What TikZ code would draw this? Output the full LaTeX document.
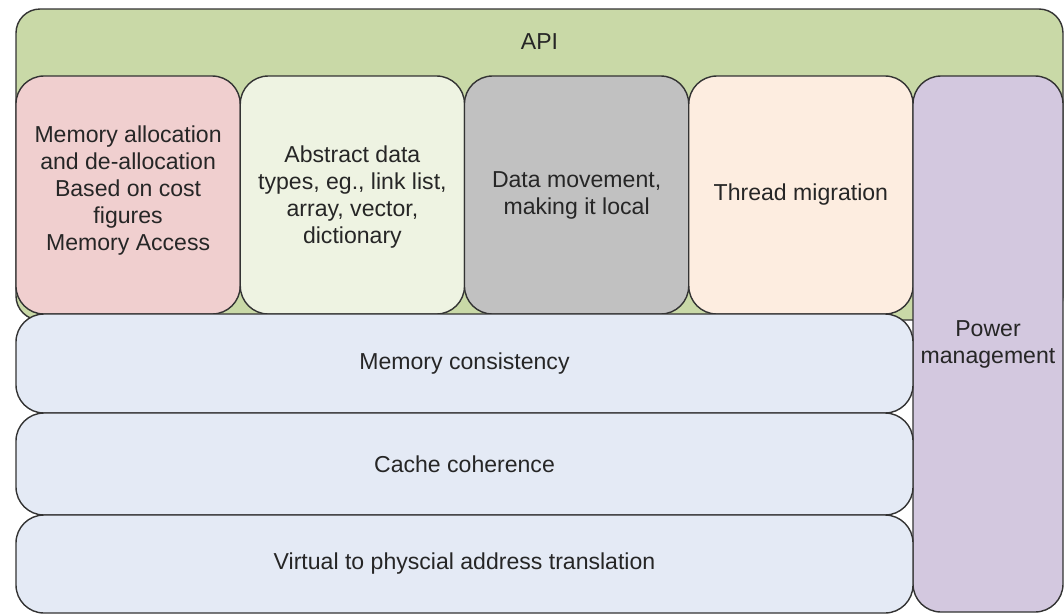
\documentclass[tikz,border=0pt]{standalone}
\usepackage{fontspec}
\setmainfont{Liberation Sans}
\definecolor{apigreen}{HTML}{C9D9A7}
\definecolor{allocred}{HTML}{F0CFCF}
\definecolor{adtgreen}{HTML}{EEF3E2}
\definecolor{movegrey}{HTML}{C1C1C1}
\definecolor{threadpeach}{HTML}{FDEDE0}
\definecolor{powerlilac}{HTML}{D3C8DF}
\definecolor{layerblue}{HTML}{E4EAF5}
\definecolor{edgegrey}{HTML}{333333}
\definecolor{inkgrey}{HTML}{262626}
\begin{document}
\begin{tikzpicture}[x=0.025cm,y=-0.025cm,line join=round,
		font=\fontsize{16.4}{19.2}\selectfont,text=inkgrey,
		layer/.style={draw=edgegrey,line width=1pt,rounded corners=0.7cm,inner sep=0pt},
		txt/.style={align=center,inner sep=0pt}]
			\def \wmod{224.25};
			\useasboundingbox (0,0) rectangle (1064,614);
			% api frame
			\node[layer,rounded corners=0.6cm,fill=apigreen,minimum width=1047*0.025cm,minimum height=311*0.025cm] (api) at (539.5,164.5) {};
			\node[txt] (apitxt) at (539.5,42) {API};
			% services row
			\node[layer,fill=allocred,minimum width=\wmod*0.025cm,minimum height=238*0.025cm] (alloc) at (128.1,195) {};
			\node[layer,fill=adtgreen,minimum width=\wmod*0.025cm,minimum height=238*0.025cm] (adt) at (352.4,195) {};
			\node[layer,fill=movegrey,minimum width=\wmod*0.025cm,minimum height=238*0.025cm] (move) at (576.6,195) {};
			\node[layer,fill=threadpeach,minimum width=\wmod*0.025cm,minimum height=238*0.025cm] (thread) at (800.9,195) {};
			\node[txt] at ([yshift=0.12cm]alloc) {Memory allocation\\and de-allocation\\Based on cost\\figures\\Memory Access};
			\node[txt] at ([yshift=-0.05cm]adt) {Abstract data\\types, eg., link list,\\array, vector,\\dictionary};
			\node[txt] at (move) {Data movement,\\making it local};
			\node[txt] at (thread) {Thread migration};
			% power column
			\node[layer,fill=powerlilac,minimum width=150*0.025cm,minimum height=536*0.025cm] (power) at (988,344) {};
			\node[txt] (powertxt) at (988,344) {Power\\management};
			% lower layers
			\node[layer,fill=layerblue,minimum width=897*0.025cm,minimum height=99*0.025cm] (consist) at (464.5,363.5) {Memory consistency};
			\node[layer,fill=layerblue,minimum width=897*0.025cm,minimum height=102*0.025cm] (coher) at (464.5,464) {Cache coherence};
			\node[layer,fill=layerblue,minimum width=897*0.025cm,minimum height=98*0.025cm] (vaddr) at (464.5,564) {Virtual to physcial address translation};
\end{tikzpicture}
\end{document}
